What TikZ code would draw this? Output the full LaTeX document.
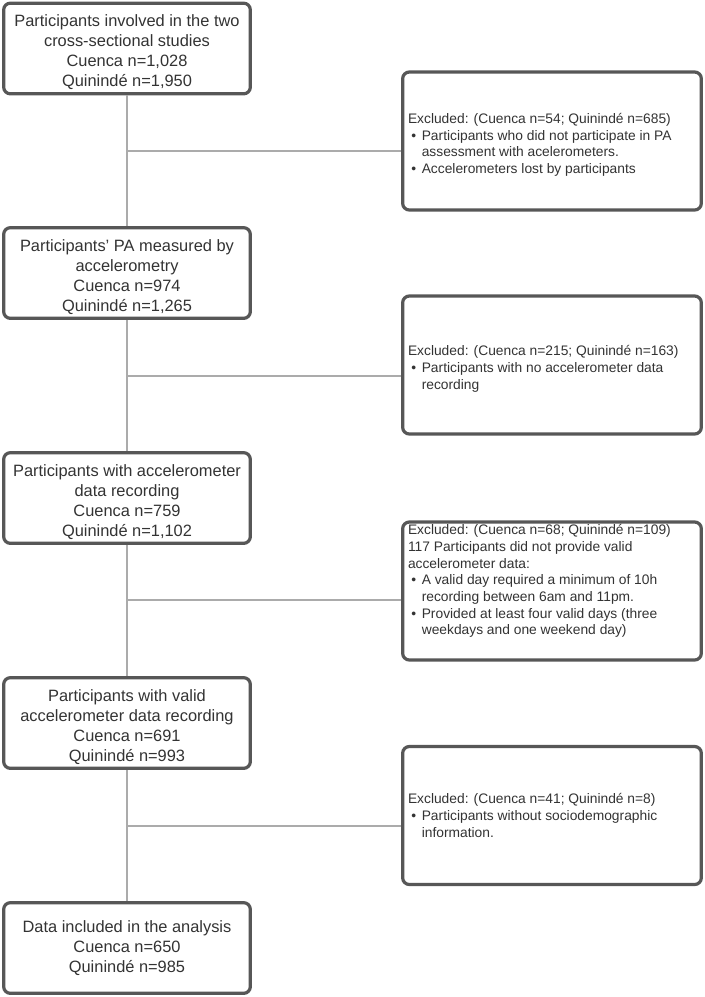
\documentclass[tikz,border=0pt]{standalone}
\usepackage{fontspec}
\setmainfont{Liberation Sans}
\usepackage{tikz}
\definecolor{boxline}{HTML}{575757}
\definecolor{linkgray}{HTML}{ABABAB}
\definecolor{txtgray}{HTML}{333333}
\newcommand{\blt}{\hspace*{0.25em}\textbullet\hspace*{0.4em}}
\newcommand{\cnt}{\hspace*{1em}}
\tikzset{
  stage/.style={draw=boxline, line width=2.4pt, rounded corners=5pt, fill=white,
    minimum width=185pt, minimum height=68pt, align=center, text=txtgray,
    font=\fontsize{12.3}{15}\selectfont, inner sep=0pt},
  sunk/.style={text height=60pt},
  exbox/.style={draw=boxline, line width=2.4pt, rounded corners=5pt, fill=white,
    minimum width=224pt, minimum height=103.5pt},
  extext/.style={align=left, text=txtgray, font=\fontsize{10.35}{12.5}\selectfont, inner sep=0pt},
  link/.style={draw=linkgray, line width=1pt}
}

\begin{document}
\begin{tikzpicture}[x=0.75pt,y=-0.75pt]
    \useasboundingbox (0,0) rectangle (704,997);
    % junctions on the main line
    \foreach \j/\y in {j1/151, j2/376, j3/600, j4/826}{
        \coordinate (\j) at (127,\y);
    }
    \node[stage,sunk] (all) at (127,48.5) {Participants involved in the two\\cross-sectional studies\\Cuenca n=1,028\\Quinindé n=1,950};
    \node[stage,sunk] (meas) at (127,273) {Participants' PA measured by\\accelerometry\\Cuenca n=974\\Quinindé n=1,265};
    \node[stage,sunk] (rec) at (127,498) {Participants with accelerometer\\data recording\\Cuenca n=759\\Quinindé n=1,102};
    \node[stage,sunk] (valid) at (127,723) {Participants with valid\\accelerometer data recording\\Cuenca n=691\\Quinindé n=993};
    \node[stage] (final) at (127,948) {Data included in the analysis\\Cuenca n=650\\Quinindé n=985};

    \node[exbox] (ex1) at (552,141) {};
    \node[exbox] (ex2) at (552,365) {};
    \node[exbox] (ex3) at (552,591) {};
    \node[exbox] (ex4) at (552,815.5) {};

    \node[extext, anchor=west] (ex1t) at ([xshift=5pt,yshift=-3pt]ex1.west) {Excluded: (Cuenca n=54; Quinindé n=685)\\
        \blt Participants who did not participate in PA\\
        \cnt assessment with acelerometers.\\
        \blt Accelerometers lost by participants};
    \node[extext, anchor=west] (ex2t) at ([xshift=5pt,yshift=-3pt]ex2.west) {Excluded: (Cuenca n=215; Quinindé n=163)\\
        \blt Participants with no accelerometer data\\
        \cnt recording};
    \node[extext, anchor=north west] (ex3t) at ([xshift=5pt,yshift=-3pt]ex3.north west) {Excluded: (Cuenca n=68; Quinindé n=109)\\
        117 Participants did not provide valid\\
        accelerometer data:\\
        \blt A valid day required a minimum of 10h\\
        \cnt recording between 6am and 11pm.\\
        \blt Provided at least four valid days (three\\
        \cnt weekdays and one weekend day)};
    \node[extext, anchor=west] (ex4t) at ([xshift=5pt]ex4.west) {Excluded: (Cuenca n=41; Quinindé n=8)\\
        \blt Participants without sociodemographic\\
        \cnt information.};

    \foreach \a/\b in {all/meas, meas/rec, rec/valid, valid/final}{
        \draw[link] (\a) -- (\b);
    }
    \foreach \j/\e in {j1/ex1, j2/ex2, j3/ex3, j4/ex4}{
        \draw[link] (\j) -- (\j -| \e.west);
    }
\end{tikzpicture}
\end{document}
